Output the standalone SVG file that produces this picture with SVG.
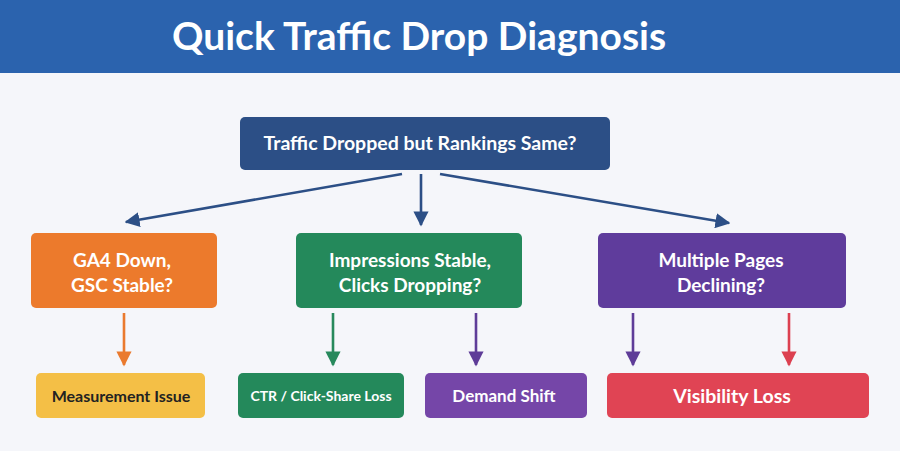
<svg xmlns="http://www.w3.org/2000/svg" width="900" height="451" viewBox="0 0 900 451">
<defs>
<style>
.t{font-family:Lato,"Open Sans","Liberation Sans",sans-serif;font-weight:700;text-anchor:middle}
.w{fill:#ffffff}
.c{stroke-width:2.6;fill:none}
</style>
<marker id="aNavy" viewBox="0 0 10 10" refX="9" refY="5" markerWidth="5.8" markerHeight="5.8" orient="auto" markerUnits="strokeWidth"><path d="M0,0 L10,5 L0,10 z" fill="#2c4f86"/></marker>
<marker id="aOrange" viewBox="0 0 10 10" refX="9" refY="5" markerWidth="5.8" markerHeight="5.8" orient="auto" markerUnits="strokeWidth"><path d="M0,0 L10,5 L0,10 z" fill="#ea7a2e"/></marker>
<marker id="aGreen" viewBox="0 0 10 10" refX="9" refY="5" markerWidth="5.8" markerHeight="5.8" orient="auto" markerUnits="strokeWidth"><path d="M0,0 L10,5 L0,10 z" fill="#27895c"/></marker>
<marker id="aPurple" viewBox="0 0 10 10" refX="9" refY="5" markerWidth="5.8" markerHeight="5.8" orient="auto" markerUnits="strokeWidth"><path d="M0,0 L10,5 L0,10 z" fill="#5e3c98"/></marker>
<marker id="aRed" viewBox="0 0 10 10" refX="9" refY="5" markerWidth="5.8" markerHeight="5.8" orient="auto" markerUnits="strokeWidth"><path d="M0,0 L10,5 L0,10 z" fill="#dc4050"/></marker>
</defs>
<rect x="0" y="0" width="900" height="451" fill="#f5f6fa"/>
<g id="header">
<rect x="0" y="0" width="900" height="73" fill="#2b63ae"/>
<text class="t w" x="419" y="50" font-size="39">Quick Traffic Drop Diagnosis</text>
</g>
<g id="connectors">
<line class="c" x1="402" y1="174" x2="126" y2="222" stroke="#2c4f86" marker-end="url(#aNavy)"/>
<line class="c" x1="421" y1="174" x2="421" y2="225" stroke="#2c4f86" marker-end="url(#aNavy)"/>
<line class="c" x1="440" y1="174" x2="729" y2="223" stroke="#2c4f86" marker-end="url(#aNavy)"/>
<line class="c" x1="124" y1="313" x2="124" y2="365" stroke="#ea7a2e" marker-end="url(#aOrange)"/>
<line class="c" x1="333" y1="313" x2="333" y2="365" stroke="#27895c" marker-end="url(#aGreen)"/>
<line class="c" x1="476" y1="313" x2="476" y2="365" stroke="#5e3c98" marker-end="url(#aPurple)"/>
<line class="c" x1="633" y1="313" x2="633" y2="365" stroke="#5e3c98" marker-end="url(#aPurple)"/>
<line class="c" x1="789" y1="313" x2="789" y2="365" stroke="#dc4050" marker-end="url(#aRed)"/>
</g>
<g id="root">
<rect x="240" y="117" width="370" height="53" rx="5" fill="#2c4f86"/>
<text class="t w" x="420" y="150" font-size="19.5">Traffic Dropped but Rankings Same?</text>
</g>
<g id="ga4">
<rect x="31" y="233" width="186" height="75" rx="5" fill="#ec7a2c"/>
<text class="t w" x="122" y="267" font-size="19">GA4 Down,</text>
<text class="t w" x="122" y="292" font-size="19">GSC Stable?</text>
</g>
<g id="impressions">
<rect x="296" y="233" width="226" height="75" rx="5" fill="#24895b"/>
<text class="t w" x="410" y="267" font-size="19">Impressions Stable,</text>
<text class="t w" x="410" y="292" font-size="19">Clicks Dropping?</text>
</g>
<g id="multiple">
<rect x="598" y="233" width="248" height="75" rx="5" fill="#5f3c9c"/>
<text class="t w" x="721" y="267" font-size="19">Multiple Pages</text>
<text class="t w" x="721" y="292" font-size="19">Declining?</text>
</g>
<g id="measurement">
<rect x="36" y="373" width="169" height="45" rx="5" fill="#f4bf46"/>
<text class="t" x="121" y="402" font-size="16" fill="#222222">Measurement Issue</text>
</g>
<g id="ctr">
<rect x="238" y="373" width="166" height="45" rx="5" fill="#24895b"/>
<text class="t w" x="321" y="401" font-size="14">CTR / Click-Share Loss</text>
</g>
<g id="demand">
<rect x="425" y="373" width="162" height="45" rx="5" fill="#7546a8"/>
<text class="t w" x="504" y="402" font-size="17">Demand Shift</text>
</g>
<g id="visibility">
<rect x="607" y="373" width="262" height="45" rx="5" fill="#e04454"/>
<text class="t w" x="732" y="403" font-size="19.5">Visibility Loss</text>
</g>
</svg>
